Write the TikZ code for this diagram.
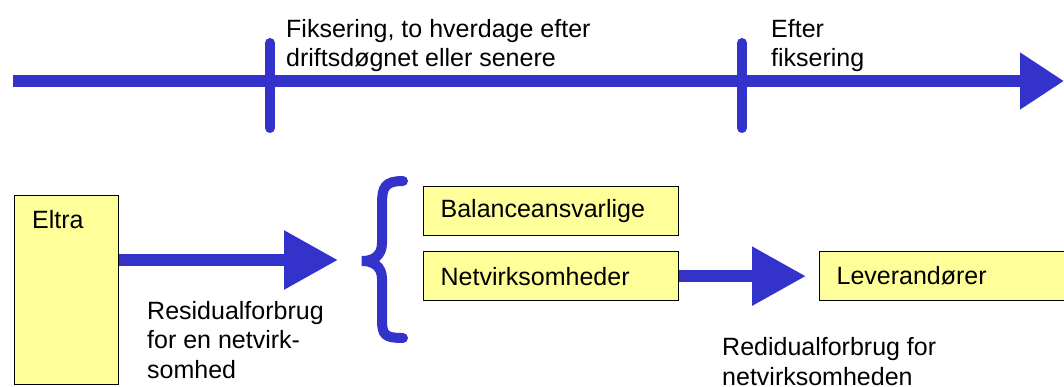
\documentclass[tikz,border=0pt]{standalone}
\usepackage{fontspec}
\setmainfont{Liberation Sans}
\usetikzlibrary{arrows.meta, positioning}
\definecolor{CBlue}{HTML}{3333CC}
\definecolor{CYellow}{HTML}{FFFF99}
\tikzset{
    yelbox/.style={rectangle, draw=black, fill=CYellow, line width=1.3pt, inner xsep=17pt, inner ysep=0pt, minimum height=49pt, align=left, anchor=north west},
    flowarrow/.style={-{Triangle[length=54pt 0 0, width=56pt 0 0]}, draw=CBlue, line width=12pt},
    timearrow/.style={-{Triangle[length=44pt 0 0, width=54pt 0 0]}, draw=CBlue, line width=12.5pt},
    tickmark/.style={draw=CBlue, line width=10pt, line cap=round},
    bracestyle/.style={draw=CBlue, line width=10pt, line cap=round},
    labeltext/.style={align=left, anchor=base west, inner sep=0pt}
}
\begin{document}
\begin{tikzpicture}[x=1pt, y=-1pt, font=\fontsize{25}{29.5}\selectfont]
    \useasboundingbox (0,0) rectangle (1064,387);

    % Time line
    \coordinate (tstart) at (13,81);
    \coordinate (tend) at (1064,81);
    \draw[timearrow] (tstart) -- (tend);
    \draw[tickmark] (270,43) -- (270,128);
    \draw[tickmark] (742,43) -- (742,128);
    \node[labeltext] (fixlbl) at (286,67) {Fiksering, to hverdage efter\\driftsdøgnet eller senere};
    \node[labeltext] (afterlbl) at (771,67) {Efter\\fiksering};

    % Nodes
    \node[yelbox, minimum width=104pt, minimum height=189pt, label={[anchor=base west, inner sep=0pt, xshift=18pt, yshift=-34pt]north west:Eltra}] (eltra) at (14,195) {};
    \node[yelbox, text width=221pt] (balance) at (423,186) {Balanceansvarlige};
    \node[yelbox, text width=221pt] (netv) at (423,251) {Netvirksomheder};
    \node[yelbox, text width=226pt] (lev) at (819,251) {Leverandører};
    \coordinate (bracetip) at (338,260);

    % Paths
    \draw[flowarrow] (eltra.east |- bracetip) -- (bracetip);
    \draw[flowarrow, shorten >=13pt] (netv) -- (lev);

    % Brace
    \draw[bracestyle] (403,181) .. controls (385,181) and (382,187) .. (382,204) -- (382,243)
        .. controls (382,256) and (373,261) .. (362,261)
        .. controls (373,261) and (382,266) .. (382,279) -- (382,320)
        .. controls (382,335) and (385,338) .. (403,338);

    % Labels
    \node[labeltext] (eltralbl) at (147,378) {Residualforbrug\\for en netvirk-\\somhed};
    \node[labeltext] (netvlbl) at (722,385) {Redidualforbrug for\\netvirksomheden};
\end{tikzpicture}
\end{document}
